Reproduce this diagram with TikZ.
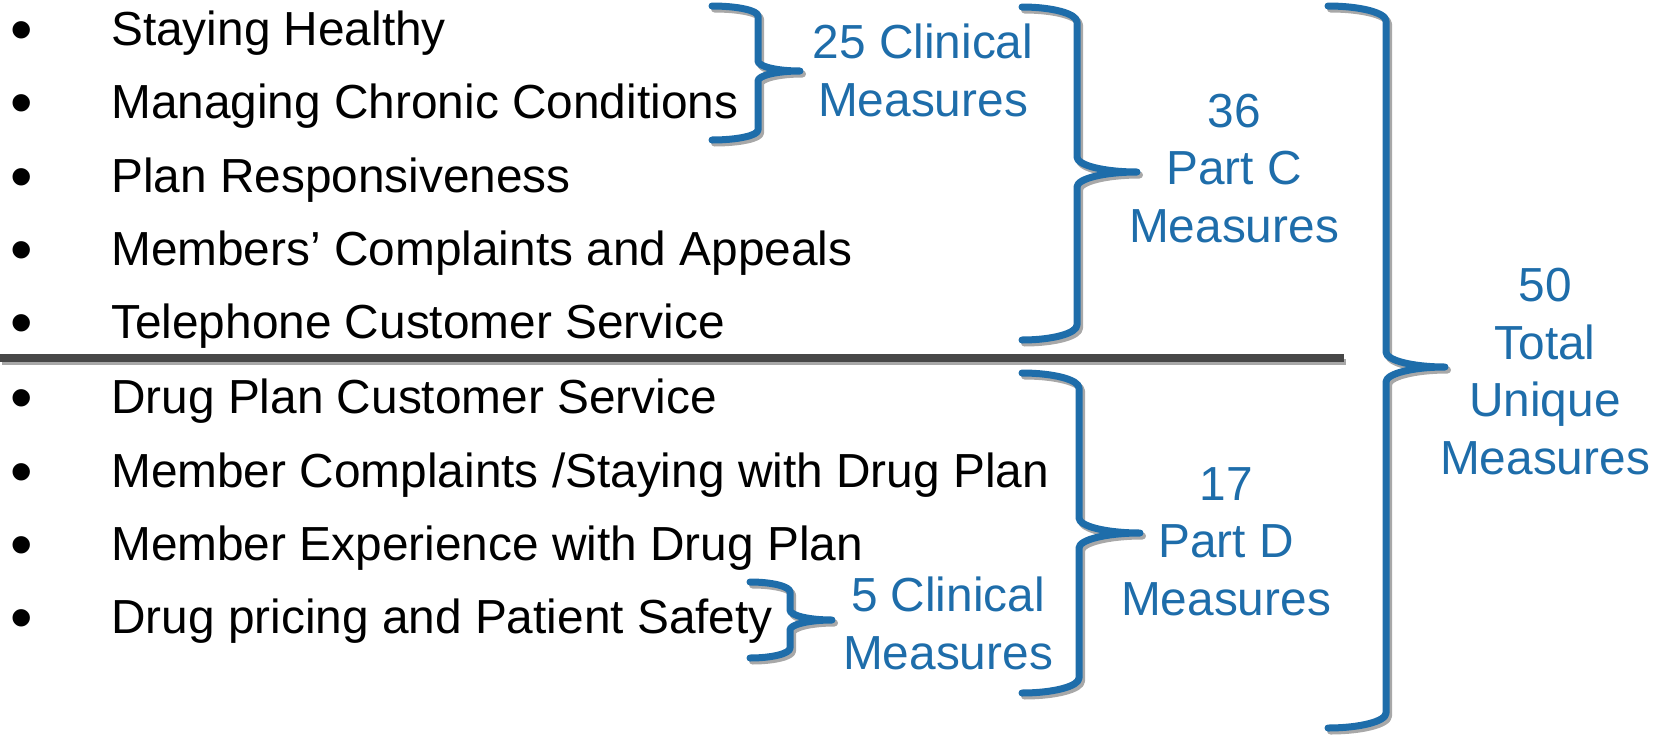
\documentclass[tikz,border=0pt]{standalone}
\usepackage{fontspec}
\setmainfont{Liberation Sans}
\definecolor{measureblue}{HTML}{1E6DAA}
\definecolor{rulegray}{HTML}{474747}
\definecolor{shadowgray}{HTML}{A8A8A8}

% right brace: style, left end, stem x, tip x, top y, middle y, bottom y, corner radius
\newcommand{\measurebrace}[8]{%
  \draw[#1] (#2,#5) .. controls ({#2+0.5523*(#3-#2)},#5) and (#3,{#5+#8*0.4477}) .. (#3,{#5+#8})
    -- (#3,{#6-#8}) .. controls (#3,{#6-#8*0.4477}) and ({#4-0.5523*(#4-#3)},#6) .. (#4,#6)
    .. controls ({#4-0.5523*(#4-#3)},#6) and (#3,{#6+#8*0.4477}) .. (#3,{#6+#8})
    -- (#3,{#7-#8}) .. controls (#3,{#7-#8*0.4477}) and ({#2+0.5523*(#3-#2)},#7) .. (#2,#7);}
\newcommand{\shadowedbrace}[7]{%
  \measurebrace{braceshadow}{#1}{#2}{#3}{#4}{#5}{#6}{#7}%
  \measurebrace{bracestroke}{#1}{#2}{#3}{#4}{#5}{#6}{#7}}

\begin{document}
\begin{tikzpicture}[x=1pt,y=-1pt,
  bigtext/.style={inner sep=0pt, font=\fontsize{47.8}{57.5}\selectfont},
  item/.style={bigtext, anchor=base west},
  dot/.style={inner sep=0pt, anchor=base, font=\fontsize{64}{70}\selectfont},
  tally/.style={bigtext, anchor=base, align=center, text=measureblue},
  bracestroke/.style={draw=measureblue, line width=7pt, line cap=round, line join=round},
  braceshadow/.style={draw=shadowgray, line width=7pt, line cap=round, line join=round, shift={(2.5,3)}}]
\useasboundingbox (0,0) rectangle (1668,739);

% list of measure domains
\foreach \name/\y/\txt in {
  i1/45/{Staying Healthy},
  i2/118/{Managing Chronic Conditions},
  i3/192/{Plan Responsiveness},
  i4/265/{Members’ Complaints and Appeals},
  i5/338/{Telephone Customer Service},
  i6/413/{Drug Plan Customer Service},
  i7/487/{Member Complaints /Staying with Drug Plan},
  i8/560/{Member Experience with Drug Plan},
  i9/633/{Drug pricing and Patient Safety}}{
  \node[dot] (b\name) at (22,\y+6) {•};
  \node[item] (\name) at (111,\y) {\txt};
}

% separator between Part C and Part D
\draw[shadowgray, line width=6pt] (2,362) -- (1346,362);
\draw[rulegray, line width=8pt] (0,357.5) -- (1344,357.5);

% braces
\shadowedbrace{712}{758}{800}{6}{71}{140}{10}
\shadowedbrace{1022}{1077}{1137}{7}{172}{340}{15}
\shadowedbrace{1328}{1386}{1445}{6}{367}{728}{15}
\shadowedbrace{1022}{1079}{1140}{373}{533}{693}{15}
\shadowedbrace{750}{790}{832}{582}{620}{658}{10}

% totals (anchored at the baseline of the last line)
\node[tally] (c25) at (923,116) {25 Clinical\\Measures};
\node[tally] (c36) at (1234,242) {36\\Part C\\Measures};
\node[tally] (c50) at (1545,474) {50\\Total\\Unique\\Measures};
\node[tally] (d17) at (1226,615) {17\\Part D\\Measures};
\node[tally] (d5) at (948,669) {5 Clinical\\Measures};
\end{tikzpicture}
\end{document}
